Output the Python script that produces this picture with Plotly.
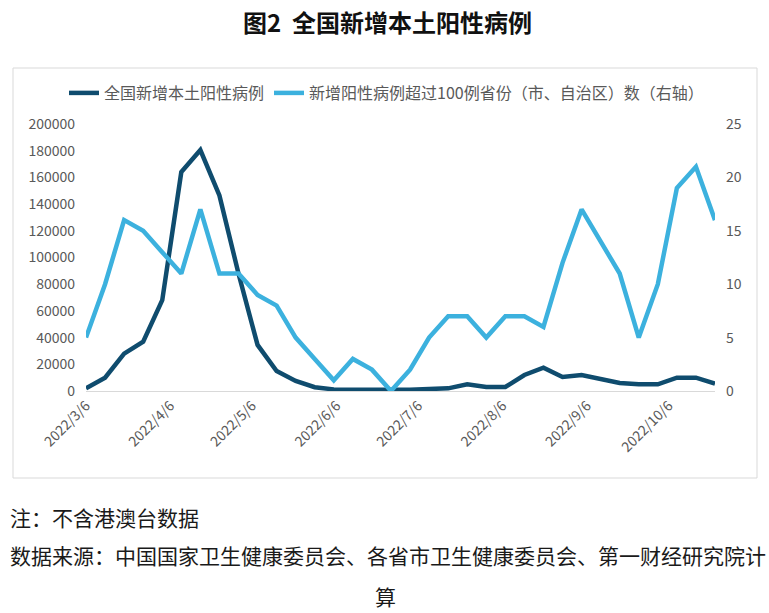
import pandas as pd
import plotly.graph_objects as go

# weekly data, 2022/3/6 - 2022/10/23
weeks = pd.date_range("2022-03-06", periods=34, freq="7D")

local_cases = [2000, 10000, 28000, 37000, 68000, 164000, 180500, 146500, 88000, 34500,
               15000, 7500, 2800, 1200, 1000, 1000, 500, 1000, 1500, 2000,
               5000, 3000, 3000, 12000, 17500, 10500, 12000, 9000, 6000, 5000,
               5000, 10000, 10000, 5500]

provinces_over_100 = [5, 10, 16, 15, 13, 11, 17, 11, 11, 9,
                      8, 5, 3, 1, 3, 2, 0, 2, 5, 7,
                      7, 5, 7, 7, 6, 12, 17, 14, 11, 5,
                      10, 19, 21, 16]

tick_dates = ["2022-03-06", "2022-04-06", "2022-05-06", "2022-06-06",
              "2022-07-06", "2022-08-06", "2022-09-06", "2022-10-06"]
tick_labels = ["2022/3/6", "2022/4/6", "2022/5/6", "2022/6/6",
               "2022/7/6", "2022/8/6", "2022/9/6", "2022/10/6"]

name_cases = "全国新增本土阳性病例"
name_prov = "新增阳性病例超过100例省份（市、自治区）数（右轴）"

W, H = 769, 613
L, R, T, B = 86, 715, 124, 391
FONT = "Noto Sans CJK SC"
GREY = "#595959"


def px(x):
    return (x - L) / (R - L)


def py(y):
    return (B - y) / (B - T)


fig = go.Figure()
fig.add_trace(go.Scatter(x=weeks, y=local_cases, name=name_cases, mode="lines",
                         line=dict(color="#0f4c6e", width=4.5)))
fig.add_trace(go.Scatter(x=weeks, y=provinces_over_100, name=name_prov, mode="lines",
                         yaxis="y2", line=dict(color="#3cb1de", width=4.5)))

fig.update_layout(
    width=W, height=H,
    margin=dict(l=L, r=W - R, t=T, b=H - B),
    paper_bgcolor="white", plot_bgcolor="white",
    font=dict(family=FONT, color=GREY, size=14),
    showlegend=True,
    legend=dict(orientation="h", x=px(64), y=py(93), xanchor="left", yanchor="middle",
                font=dict(size=16, color=GREY), itemwidth=30, tracegroupgap=0,
                bgcolor="rgba(0,0,0,0)"),
    xaxis=dict(type="date", range=[weeks[0], weeks[-1]],
               tickvals=tick_dates, ticktext=tick_labels, tickangle=-45,
               showgrid=False, showline=True, linecolor="#d9d9d9", linewidth=1,
               ticks="", tickfont=dict(size=14, color=GREY), zeroline=False),
    yaxis=dict(range=[0, 200000], dtick=20000, tickformat="d", showgrid=False,
               zeroline=False, showline=False, ticks="", ticklabelstandoff=10,
               tickfont=dict(size=14, color=GREY)),
    yaxis2=dict(range=[0, 25], dtick=5, overlaying="y", side="right", showgrid=False,
                zeroline=False, showline=False, ticks="", ticklabelstandoff=10,
                tickfont=dict(size=14, color=GREY)),
)

# chart frame
fig.add_shape(type="rect", xref="paper", yref="paper",
              x0=px(13), x1=px(757), y0=py(478), y1=py(68),
              line=dict(color="#d9d9d9", width=1), layer="below")

fig.add_annotation(text="<b>图2  全国新增本土阳性病例</b>", xref="paper", yref="paper",
                   x=px(387), y=py(22), showarrow=False, xanchor="center", yanchor="middle",
                   font=dict(size=24, color="#111111", family=FONT))

fig.add_annotation(text="注：不含港澳台数据", xref="paper", yref="paper",
                   x=px(8), y=py(517), showarrow=False, xanchor="left", yanchor="middle",
                   font=dict(size=21, color="#1a1a1a", family=FONT))
fig.add_annotation(text="数据来源：中国国家卫生健康委员会、各省市卫生健康委员会、第一财经研究院计",
                   xref="paper", yref="paper",
                   x=px(8), y=py(555), showarrow=False, xanchor="left", yanchor="middle",
                   font=dict(size=21, color="#1a1a1a", family=FONT))
fig.add_annotation(text="算", xref="paper", yref="paper",
                   x=px(385), y=py(596), showarrow=False, xanchor="center", yanchor="middle",
                   font=dict(size=21, color="#1a1a1a", family=FONT))

fig.write_html("out.html", config={"displayModeBar": False},
               post_script="document.body.style.margin='0';")
